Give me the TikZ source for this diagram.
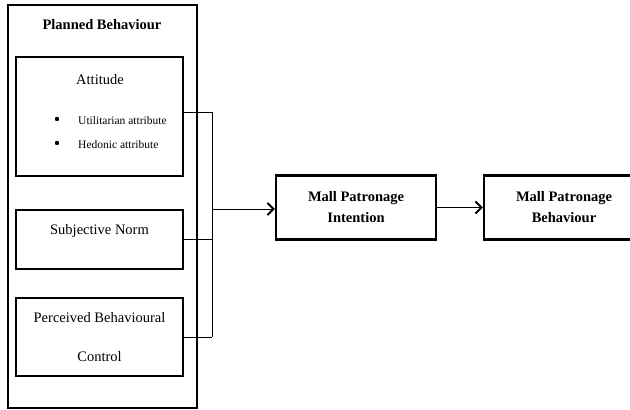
\documentclass[tikz,border=0pt]{standalone}
\usepackage{fontspec}
\setmainfont{Liberation Serif}
\usetikzlibrary{arrows.meta}
\begin{document}
\begin{tikzpicture}[x=1pt,y=-1pt,
  outerbox/.style={draw,line width=1.6pt,minimum width=189pt,minimum height=403pt,inner sep=0pt},
  innerbox/.style={draw,line width=2.6pt,minimum width=167pt,inner sep=0pt},
  mainbox/.style={draw,line width=2.2pt,minimum width=160pt,minimum height=64pt,inner sep=0pt,
     align=center,font=\fontsize{14.5}{21}\selectfont\bfseries},
  lbl/.style={inner sep=0pt,font=\fontsize{14.5}{16}\selectfont},
  small/.style={inner sep=0pt,anchor=west,font=\fontsize{11.5}{13}\selectfont},
  conn/.style={line width=0.8pt},
  arr/.style={line width=0.9pt,-{Straight Barb[length=6pt,width=12pt,line width=2pt]}},
  dot/.style={circle,fill,inner sep=0pt,minimum size=4.4pt}
]
\useasboundingbox (0,0) rectangle (630,410);
\clip (0,0) rectangle (630,410);
\fill[white] (0,0) rectangle (630,410);

\node[outerbox] (outer) at (102.5,206.5) {};
\node[lbl,font=\fontsize{14.5}{16}\selectfont\bfseries] (title) at (102,25) {Planned Behaviour};

\node[innerbox,minimum height=119pt] (att) at (99.5,116.5) {};
\node[lbl] (attt) at (100,80) {Attitude};
\node[dot] (b1) at (57,119) {};
\node[dot] (b2) at (57,143) {};
\node[small] (u1) at (78,121) {Utilitarian attribute};
\node[small] (u2) at (78,145) {Hedonic attribute};

\node[innerbox,minimum height=59pt] (sn) at (99.5,239.5) {};
\node[lbl] (snt) at (99.5,231) {Subjective Norm};

\node[innerbox,minimum height=78pt] (pbc) at (99.5,337) {};
\node[lbl] (pbc1) at (99.5,318) {Perceived Behavioural};
\node[lbl] (pbc2) at (99.5,357) {Control};

\node[mainbox] (int) at (356,207.5) {Mall Patronage\\Intention};
\node[mainbox] (beh) at (564,207.5) {Mall Patronage\\Behaviour};

\coordinate (j1) at (212,112);
\coordinate (j2) at (212,239);
\coordinate (j3) at (212,337);
\coordinate (jm) at (212,209);

\draw[conn] (att.east |- j1) -- (j1) -- (j3);
\draw[conn] (sn.east |- j2) -- (j2);
\draw[conn] (pbc.east |- j3) -- (j3);
\draw[arr] (jm) -- (int.west |- jm);
\draw[arr] (int.east) -- (beh.west);
\end{tikzpicture}
\end{document}
